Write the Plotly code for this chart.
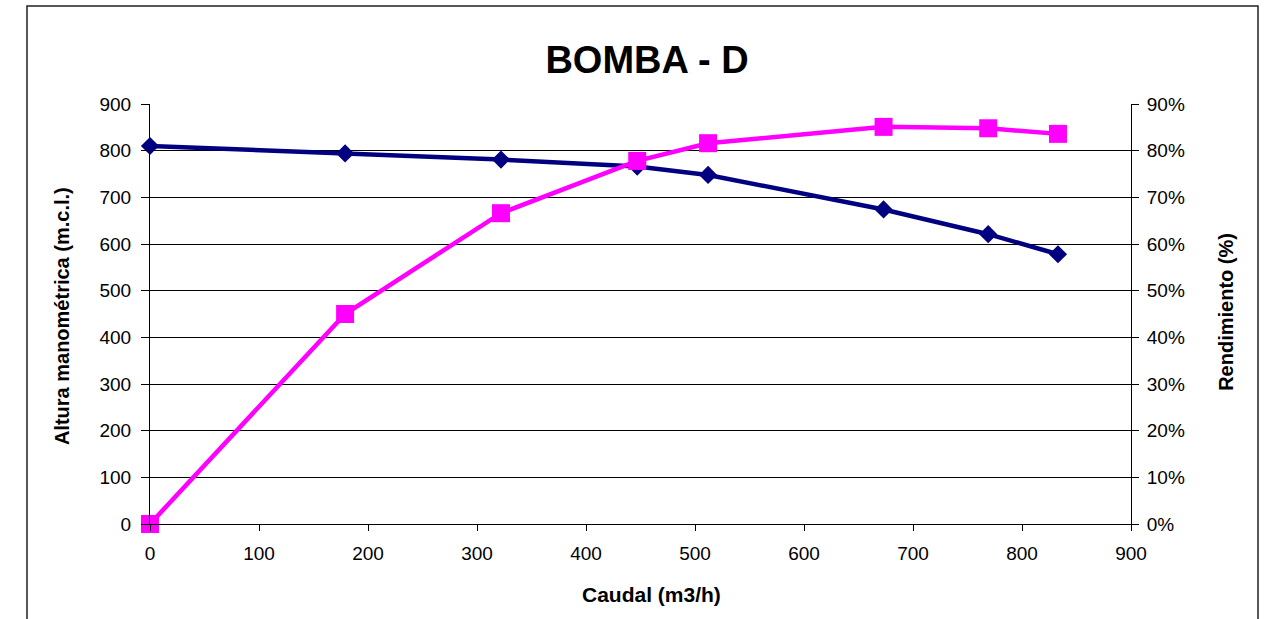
import plotly.graph_objects as go

# Pump curve data: flow, head and efficiency
caudal = [0, 179, 322, 447, 512, 673, 769, 833]          # m3/h
altura = [810, 794, 781, 766, 748, 674, 621, 578]        # m.c.l.
rendimiento = [0, 0.45, 0.666, 0.778, 0.816, 0.851, 0.848, 0.836]

x_ticks = list(range(0, 901, 100))
y_ticks = list(range(0, 901, 100))
y2_ticks = [i / 10 for i in range(0, 10)]

FONT = "Liberation Sans, Arial, sans-serif"

fig = go.Figure()

fig.add_trace(go.Scatter(
    x=caudal, y=altura, mode="lines+markers", name="Altura",
    line=dict(color="#000080", width=4.5),
    marker=dict(symbol="diamond", size=14, color="#000080"),
    cliponaxis=False,
))

fig.add_trace(go.Scatter(
    x=caudal, y=rendimiento, mode="lines+markers", name="Rendimiento",
    yaxis="y2",
    line=dict(color="#FF00FF", width=4.5),
    marker=dict(symbol="square", size=18, color="#FF00FF"),
    cliponaxis=False,
))

fig.update_layout(
    width=1271, height=619, autosize=False,
    margin=dict(l=150, r=140, t=104, b=95),
    paper_bgcolor="white", plot_bgcolor="white",
    showlegend=False,
    font=dict(family=FONT, color="black", size=19),
    title=dict(
        text="<b>BOMBA - D</b>", x=0.5067, xref="paper", xanchor="center",
        y=1 - 60 / 619, yref="container", yanchor="middle",
        font=dict(size=38, family=FONT, color="black"),
    ),
    xaxis=dict(
        range=[0, 900], tickvals=x_ticks, ticktext=[str(v) for v in x_ticks],
        showline=True, linecolor="black", linewidth=1,
        ticks="outside", ticklen=6, tickcolor="black",
        showgrid=False, zeroline=False,
        tickfont=dict(size=19), ticklabelstandoff=6,
    ),
    yaxis=dict(
        range=[0, 900], tickvals=y_ticks, ticktext=[str(v) for v in y_ticks],
        showline=True, linecolor="black", linewidth=1,
        ticks="outside", ticklen=8, tickcolor="black",
        showgrid=True, gridcolor="black", gridwidth=1,
        zeroline=False, tickfont=dict(size=19), ticklabelstandoff=6,
    ),
    yaxis2=dict(
        range=[0, 0.9], overlaying="y", side="right",
        tickvals=y2_ticks, ticktext=[f"{int(round(v * 100))}%" for v in y2_ticks],
        showline=True, linecolor="black", linewidth=1,
        ticks="outside", ticklen=7, tickcolor="black",
        showgrid=False, zeroline=False, tickfont=dict(size=19),
        ticklabelstandoff=4,
    ),
)

# Axis titles
fig.add_annotation(
    text="<b>Caudal (m3/h)</b>", xref="paper", yref="paper",
    x=0.5117, y=-0.1667, showarrow=False, xanchor="center", yanchor="middle",
    font=dict(size=21, family=FONT, color="black"),
)
fig.add_annotation(
    text="<b>Altura manométrica (m.c.l.)</b>", xref="paper", yref="paper",
    x=-0.0897, y=0.495, showarrow=False, textangle=-90,
    xanchor="center", yanchor="middle",
    font=dict(size=20, family=FONT, color="black"),
)
fig.add_annotation(
    text="<b>Rendimiento (%)</b>", xref="paper", yref="paper",
    x=1.0968, y=0.505, showarrow=False, textangle=-90,
    xanchor="center", yanchor="middle",
    font=dict(size=20, family=FONT, color="black"),
)

# Chart frame
fig.add_shape(
    type="rect", xref="paper", yref="paper",
    x0=(27 - 150) / 981, x1=(1258 - 150) / 981,
    y0=-0.4, y1=(524 - 6) / 420,
    line=dict(color="#222222", width=1.5), fillcolor="rgba(0,0,0,0)",
    layer="below",
)

fig.write_html("out.html")
